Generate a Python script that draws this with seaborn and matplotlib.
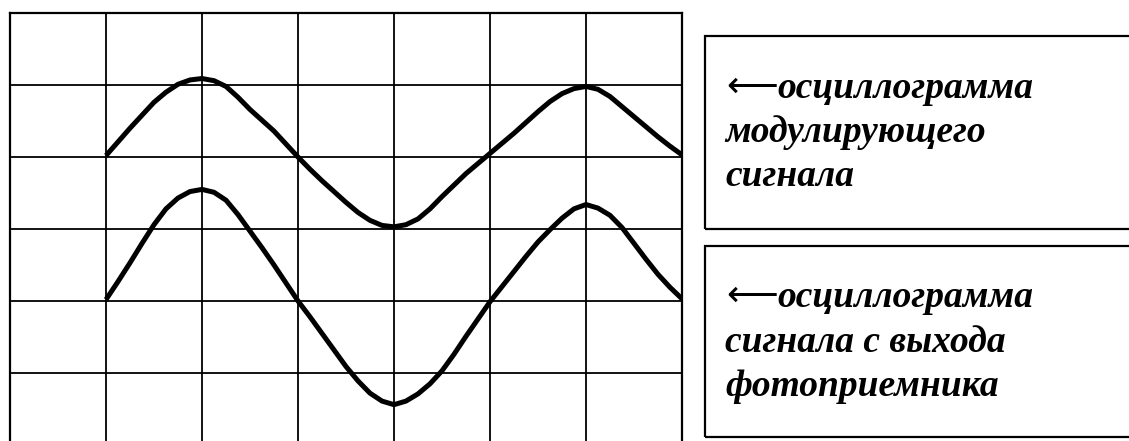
import numpy as np
import matplotlib
matplotlib.use("Agg")
import matplotlib.pyplot as plt
from matplotlib.patches import Rectangle
import seaborn as sns

# Time axis in grid divisions (every 1/8 division)
t = [1.0, 1.125, 1.25, 1.375, 1.5, 1.625, 1.75, 1.875,
     2.0, 2.125, 2.25, 2.375, 2.5, 2.625, 2.75, 2.875,
     3.0, 3.125, 3.25, 3.375, 3.5, 3.625, 3.75, 3.875,
     4.0, 4.125, 4.25, 4.375, 4.5, 4.625, 4.75, 4.875,
     5.0, 5.125, 5.25, 5.375, 5.5, 5.625, 5.75, 5.875,
     6.0, 6.125, 6.25, 6.375, 6.5, 6.625, 6.75, 6.875, 7.0]

# Modulating signal (upper trace), in divisions
mod_signal = [4.02, 4.21, 4.40, 4.58, 4.76, 4.90, 5.01, 5.07,
              5.09, 5.06, 4.98, 4.83, 4.66, 4.51, 4.36, 4.18,
              4.00, 3.83, 3.67, 3.52, 3.37, 3.23, 3.12, 3.05,
              3.03, 3.06, 3.14, 3.28, 3.45, 3.61, 3.77, 3.91,
              4.05, 4.19, 4.33, 4.48, 4.63, 4.77, 4.88, 4.95,
              4.98, 4.94, 4.84, 4.70, 4.56, 4.42, 4.28, 4.15, 4.03]

# Photodetector output (lower trace), in divisions
det_signal = [2.02, 2.27, 2.53, 2.80, 3.06, 3.28, 3.43, 3.52,
              3.55, 3.51, 3.40, 3.20, 2.97, 2.74, 2.50, 2.25,
              2.00, 1.78, 1.55, 1.32, 1.09, 0.89, 0.72, 0.61,
              0.56, 0.61, 0.71, 0.85, 1.03, 1.26, 1.51, 1.75,
              1.99, 2.20, 2.41, 2.62, 2.82, 2.99, 3.15, 3.28,
              3.34, 3.29, 3.19, 3.02, 2.80, 2.58, 2.37, 2.19, 2.03]

label_top = ["осциллограмма", "модулирующего", "сигнала"]
label_bottom = ["осциллограмма", "сигнала с выхода", "фотоприемника"]

sns.set_style("white")
plt.rcParams['font.family'] = ['Liberation Serif', 'DejaVu Serif']

W, H = 1129, 441
fig = plt.figure(figsize=(W / 100, H / 100), dpi=100)
fig.patch.set_facecolor("white")


def fx(px):
    return px / W


def fy(py):
    return (H - py) / H


# oscilloscope screen: 7 x 6 divisions
ax = fig.add_axes([fx(10), fy(445), fx(682) - fx(10), fy(13) - fy(445)])
for sig in (mod_signal, det_signal):
    sns.lineplot(x=t, y=sig, ax=ax, color="black", linewidth=3.6,
                 estimator=None, sort=False, solid_joinstyle="round",
                 solid_capstyle="butt")
ax.set_xlim(0, 7)
ax.set_ylim(0, 6)
ax.set_xticks(range(8))
ax.set_yticks(range(7))
ax.tick_params(length=0, labelbottom=False, labelleft=False)
ax.grid(True, color="black", linewidth=1.3)
ax.set_axisbelow(True)
for sp in ax.spines.values():
    sp.set_color("black")
    sp.set_linewidth(1.6)
ax.set_xlabel("")
ax.set_ylabel("")

# caption boxes (open on the right side)
for top, bottom in [(36, 229), (246, 437)]:
    fig.patches.append(Rectangle((fx(705), fy(bottom)), fx(1160) - fx(705),
                                 fy(top) - fy(bottom), transform=fig.transFigure,
                                 fill=False, edgecolor="black", linewidth=1.6))

txt = dict(fontsize=27, fontweight="bold", fontstyle="italic",
           va="baseline", ha="left", color="black")
for lines, baselines in [(label_top, [98, 142, 186]),
                         (label_bottom, [307, 352, 396])]:
    fig.text(fx(726), fy(baselines[0] - 11), "⟵", fontsize=26,
             family=["DejaVu Sans"], va="center", ha="left", color="black")
    fig.text(fx(777), fy(baselines[0]), lines[0], **txt)
    for s, b in zip(lines[1:], baselines[1:]):
        fig.text(fx(725), fy(b), s, **txt)

fig.savefig("out.png", dpi=100)
